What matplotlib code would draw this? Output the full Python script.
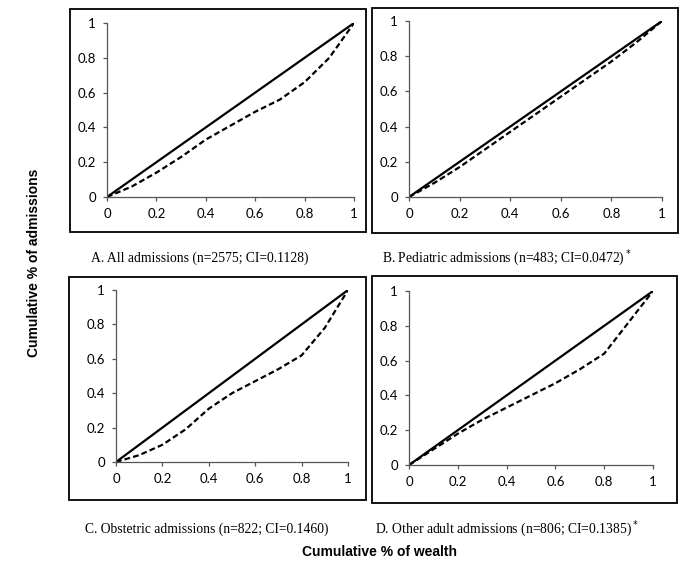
import matplotlib.pyplot as plt
from matplotlib.patches import Rectangle

# cumulative share of wealth (x) and concentration curves
wealth = [0, 0.1, 0.2, 0.3, 0.4, 0.5, 0.6, 0.7, 0.8, 0.9, 1.0]
all_adm = [0, 0.06, 0.14, 0.23, 0.33, 0.41, 0.49, 0.56, 0.66, 0.80, 1.0]
pediatric = [0, 0.08, 0.17, 0.27, 0.37, 0.47, 0.57, 0.67, 0.77, 0.88, 1.0]
obstetric = [0, 0.04, 0.10, 0.19, 0.31, 0.40, 0.47, 0.54, 0.62, 0.78, 1.0]
other_adult = [0, 0.09, 0.18, 0.26, 0.33, 0.40, 0.47, 0.55, 0.64, 0.82, 1.0]
equality = [0, 1]

ticks = [0, 0.2, 0.4, 0.6, 0.8, 1]
tick_labels = ["0", "0.2", "0.4", "0.6", "0.8", "1"]

captions = [
    "A. All admissions (n=2575; CI=0.1128)",
    "B. Pediatric admissions (n=483; CI=0.0472)$^*$",
    "C. Obstetric admissions (n=822; CI=0.1460)",
    "D. Other adult admissions (n=806; CI=0.1385)$^*$",
]

W, H = 685, 571
fig = plt.figure(figsize=(W / 100, H / 100), dpi=100)

def px_axes(x0, x1, y0, y1):
    return fig.add_axes([x0 / W, 1 - y1 / H, (x1 - x0) / W, (y1 - y0) / H])

def frame(x0, x1, y0, y1):
    fig.patches.append(Rectangle((x0 / W, 1 - y1 / H), (x1 - x0) / W, (y1 - y0) / H,
                                 transform=fig.transFigure, fill=False,
                                 edgecolor="black", linewidth=1.3))

# plot area pixels, frame pixels, caption centre (x, y)
panels = [
    (all_adm, (107, 354, 23, 197), (70, 366, 9, 232), (200, 258)),
    (pediatric, (409, 662, 21, 197), (372, 678, 8, 233), (507, 258)),
    (obstetric, (116, 348, 290, 462), (69, 366, 277, 500), (207, 529)),
    (other_adult, (409, 653, 291, 465), (372, 677, 276, 503), (507, 529)),
]

for (curve, ab, fb, cp), cap in zip(panels, captions):
    frame(*fb)
    ax = px_axes(*ab)
    ax.plot(equality, equality, color="black", lw=1.6)
    ax.plot(wealth, curve, color="black", lw=1.6, dashes=(2.6, 1.4))
    ax.set_xlim(0, 1)
    ax.set_ylim(0, 1)
    ax.set_xticks(ticks)
    ax.set_xticklabels(tick_labels, family="Lato")
    ax.set_yticks(ticks)
    ax.set_yticklabels(tick_labels, family="Lato")
    for s in ["top", "right"]:
        ax.spines[s].set_visible(False)
    for s in ["left", "bottom"]:
        ax.spines[s].set_color("#555555")
        ax.spines[s].set_linewidth(0.9)
    ax.tick_params(direction="out", length=3, width=0.9, color="#555555",
                   labelsize=9.5, pad=5)
    ax.set_facecolor("none")
    fig.text(cp[0] / W, 1 - cp[1] / H, cap, ha="center", va="center",
             family="Liberation Serif", fontsize=9.8)

fig.text(380 / W, 1 - 552 / H, "Cumulative % of wealth", ha="center", va="center",
         family="Liberation Sans", fontweight="bold", fontsize=10)
fig.text(34 / W, 1 - 263 / H, "Cumulative % of admissions", ha="center", va="center",
         rotation=90, family="Liberation Sans", fontweight="bold", fontsize=10)

fig.savefig("out.png", dpi=100)
